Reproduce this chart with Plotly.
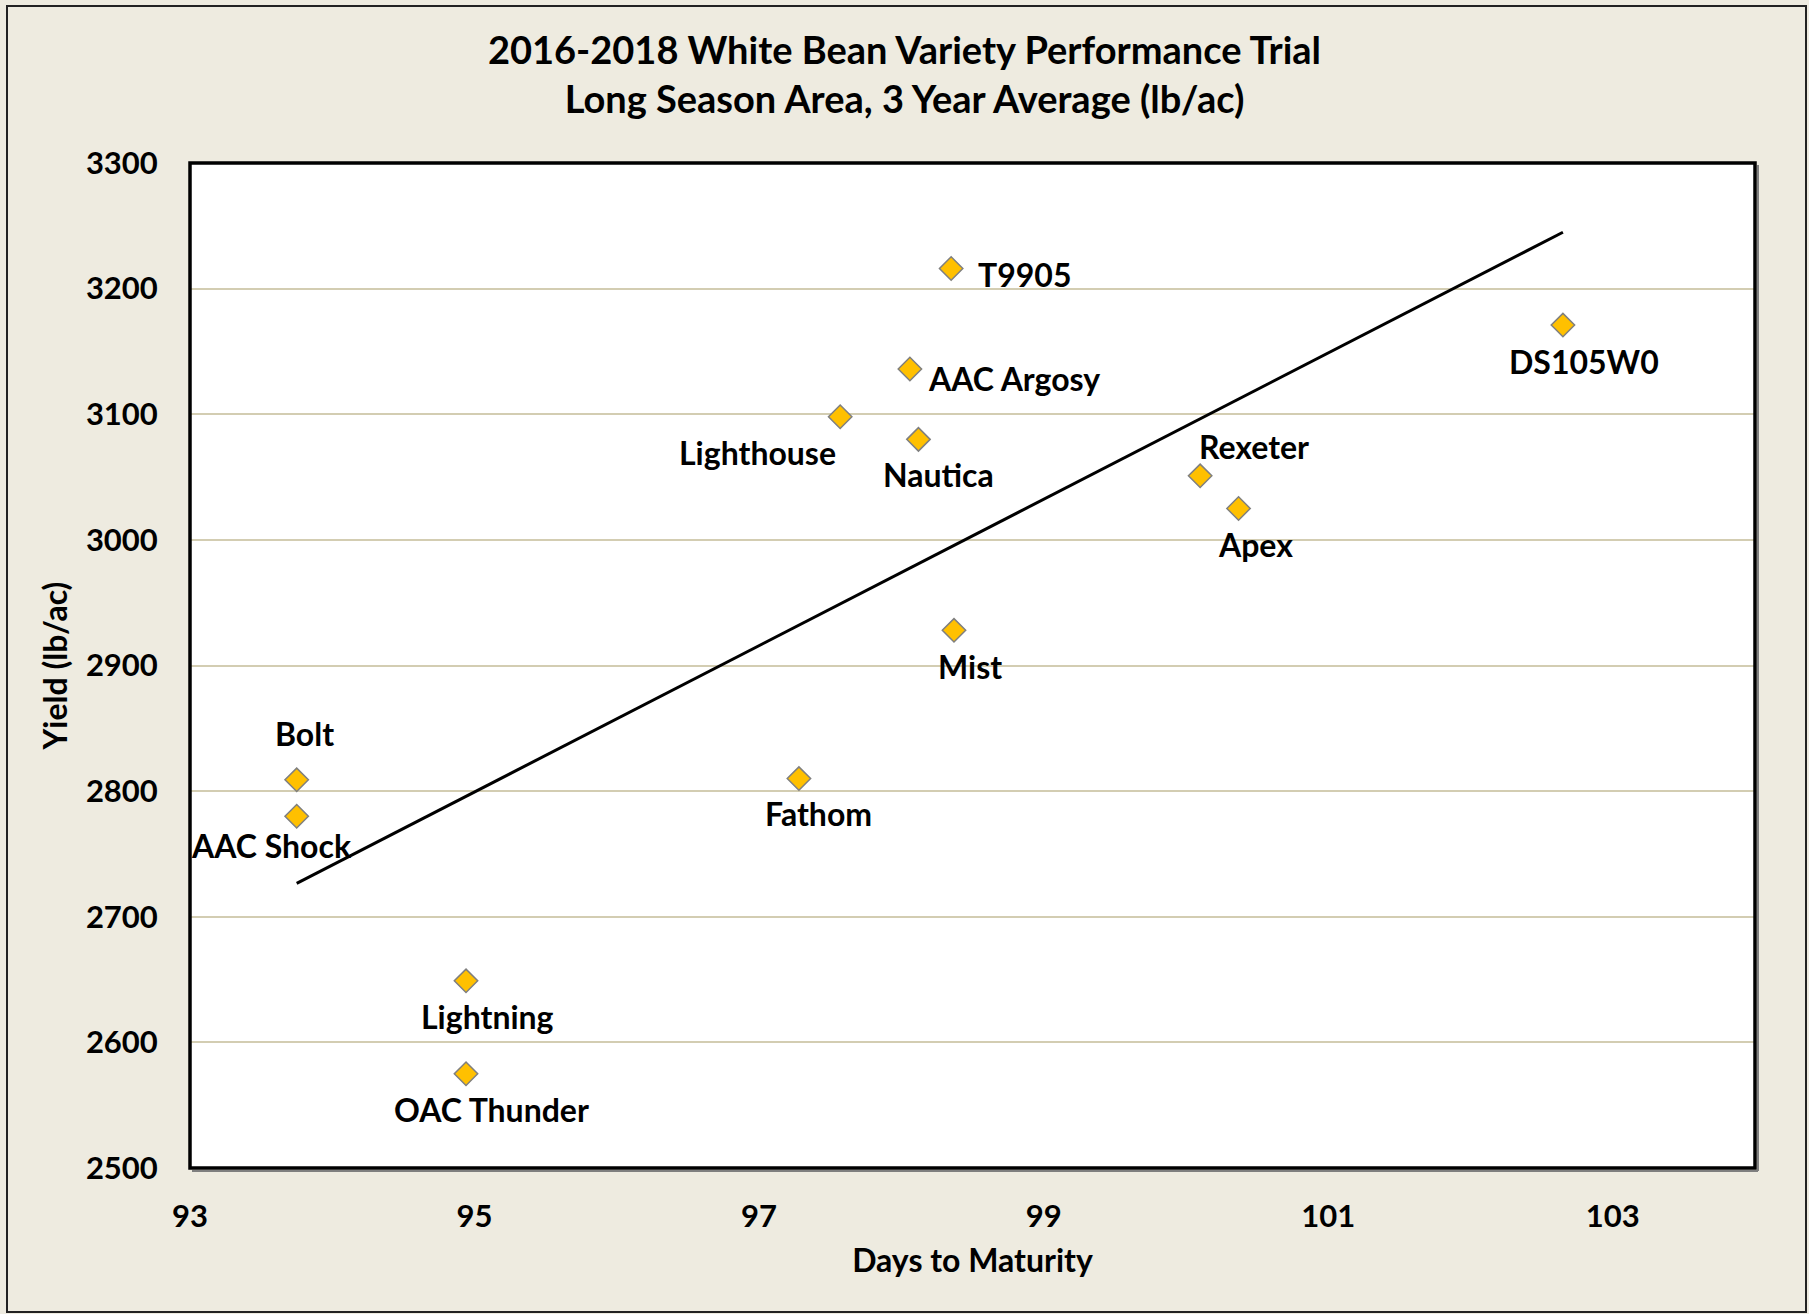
import numpy as np
import plotly.graph_objects as go

# ---- data ----
varieties = ["T9905", "AAC Argosy", "Lighthouse", "Nautica", "Rexeter", "Apex",
             "DS105W0", "Mist", "Fathom", "Bolt", "AAC Shock", "Lightning", "OAC Thunder"]
days = [98.35, 98.06, 97.57, 98.12, 100.10, 100.37, 102.65, 98.37, 97.28, 93.75, 93.75, 94.94, 94.94]
yield_lbac = [3216, 3136, 3098, 3080, 3051, 3025, 3171, 2928, 2810, 2809, 2780, 2649, 2575]
x_ticks = [93, 95, 97, 99, 101, 103]
y_ticks = [2500, 2600, 2700, 2800, 2900, 3000, 3100, 3200, 3300]

# label offsets in pixels (dx right, dy up)
label_offsets = [(73, -6), (104, -9), (-83, -36), (20, -35), (54, 29), (17, -36),
                 (21, -36), (16, -36), (20, -35), (8, 46), (-25, -29), (21, -36), (25, -36)]

# ---- layout geometry ----
W, H = 1809, 1314
L, R, T, B = 190, 1755, 163, 1168
BG = "#EEEBE0"
FONT = "Lato"

def px(xp):
    return (xp - L) / (R - L)

def py(yp):
    return (B - yp) / (B - T)

# linear trendline
slope, intercept = np.polyfit(days, yield_lbac, 1)
tx = np.array([min(days), max(days)])
ty = slope * tx + intercept

fig = go.Figure()
fig.add_trace(go.Scatter(x=tx, y=ty, mode="lines",
                         line=dict(color="black", width=3), hoverinfo="skip",
                         showlegend=False))
fig.add_trace(go.Scatter(x=days, y=yield_lbac, mode="markers", text=varieties,
                         marker=dict(symbol="diamond", size=18, color="#FFC000",
                                     line=dict(color="#7F7F7F", width=1.5)),
                         showlegend=False))

annotations = []
for name, xv, yv, (dx, dy) in zip(varieties, days, yield_lbac, label_offsets):
    annotations.append(dict(x=xv, y=yv, xref="x", yref="y", text=name, showarrow=False,
                            xshift=dx, yshift=dy,
                            font=dict(family=FONT, size=32, color="black", weight=700)))

shapes = [
    # outer chart border
    dict(type="rect", xref="paper", yref="paper", x0=px(7), x1=px(1806), y0=py(1312), y1=py(6),
         line=dict(color="#222222", width=2), fillcolor="rgba(0,0,0,0)", layer="below"),
    # frame shadow
    dict(type="line", xref="paper", yref="paper", x0=px(L + 2), x1=px(R + 3), y0=py(B + 3), y1=py(B + 3),
         line=dict(color="#7F7F7F", width=2)),
    dict(type="line", xref="paper", yref="paper", x0=px(R + 3), x1=px(R + 3), y0=py(B + 3), y1=py(T + 2),
         line=dict(color="#7F7F7F", width=2)),
    # plot frame
    dict(type="rect", xref="paper", yref="paper", x0=0, x1=1, y0=0, y1=1,
         line=dict(color="black", width=3.5), fillcolor="rgba(0,0,0,0)"),
]

fig.update_layout(
    width=W, height=H,
    margin=dict(l=L, r=W - R, t=T, b=H - B, pad=0),
    paper_bgcolor=BG, plot_bgcolor="white",
    font=dict(family=FONT, color="black"),
    title=dict(text="2016-2018 White Bean Variety Performance Trial<br>Long Season Area, 3 Year Average (lb/ac)",
               x=0.5, xref="container", xanchor="center", y=1 - 64 / H, yref="container", yanchor="middle",
               font=dict(family=FONT, size=38, color="black", weight=700)),
    annotations=annotations,
    shapes=shapes,
    xaxis=dict(range=[93, 104], tickvals=x_ticks, showgrid=False, zeroline=False,
               ticks="outside", ticklen=21, tickcolor="rgba(0,0,0,0)",
               tickfont=dict(family=FONT, size=31, color="black", weight=700),
               title=dict(text="Days to Maturity", standoff=16,
                          font=dict(family=FONT, size=32, color="black", weight=700)),
               showline=False),
    yaxis=dict(range=[2500, 3300], tickvals=y_ticks, showgrid=True, gridcolor="#D3CDB2",
               gridwidth=1.5, zeroline=False,
               ticks="outside", ticklen=25, tickcolor="rgba(0,0,0,0)",
               tickfont=dict(family=FONT, size=31, color="black", weight=700),
               title=dict(text="Yield (lb/ac)", standoff=8,
                          font=dict(family=FONT, size=32, color="black", weight=700)),
               showline=False),
)

fig.write_html("out.html", config={"displayModeBar": False},
               post_script="document.body.style.margin='0';")
